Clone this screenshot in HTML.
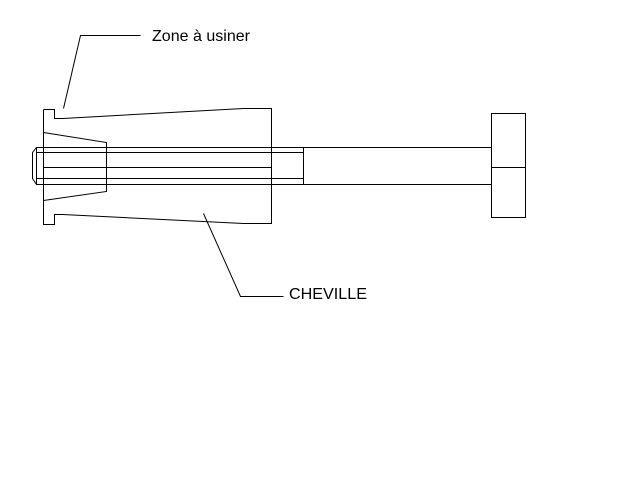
<!DOCTYPE html>
<html><head><meta charset="utf-8"><style>html,body{margin:0;padding:0;background:#fff}svg{display:block}</style></head>
<body>
<svg width="640" height="480" viewBox="0 0 640 480" xmlns="http://www.w3.org/2000/svg">
<g fill="none" stroke="#000" stroke-width="1">
<!-- body outline -->
<polyline points="43.5,109.5 54.5,109.5 54.5,118.5 62.5,118.5 243.5,108.5 271.5,108.5 271.5,223.5 243.5,223.5 62.5,214.5 54.5,214.5 54.5,224.5 43.5,224.5 43.5,109.5"/>
<!-- inner cone -->
<polyline points="43.5,132.5 106.5,142.5 106.5,191.5 43.5,200.5"/>
<!-- shaft -->
<polyline points="491.5,147.5 36.5,147.5 32.5,152.5 32.5,178.5 36.5,184.5 491.5,184.5"/>
<line x1="36.5" y1="147.5" x2="36.5" y2="184.5"/>
<line x1="36.5" y1="152.5" x2="303.5" y2="152.5"/>
<line x1="36.5" y1="178.5" x2="303.5" y2="178.5"/>
<line x1="43.5" y1="167.5" x2="271.5" y2="167.5"/>
<line x1="303.5" y1="147.5" x2="303.5" y2="184.5"/>
<!-- head -->
<rect x="491.5" y="113.5" width="34" height="104"/>
<line x1="491.5" y1="167.5" x2="525.5" y2="167.5"/>
<!-- leaders -->
<polyline points="63.5,108.5 80.5,35.5 140.5,35.5"/>
<polyline points="203.5,213.5 240.5,296.5 283.5,296.5"/>
</g>
<g font-family="Liberation Sans, sans-serif" font-size="16" fill="#000">
<text x="152" y="41" textLength="98" lengthAdjust="spacingAndGlyphs">Zone à usiner</text>
<text x="289" y="299" textLength="78" lengthAdjust="spacingAndGlyphs">CHEVILLE</text>
</g>
</svg>
</body></html>
